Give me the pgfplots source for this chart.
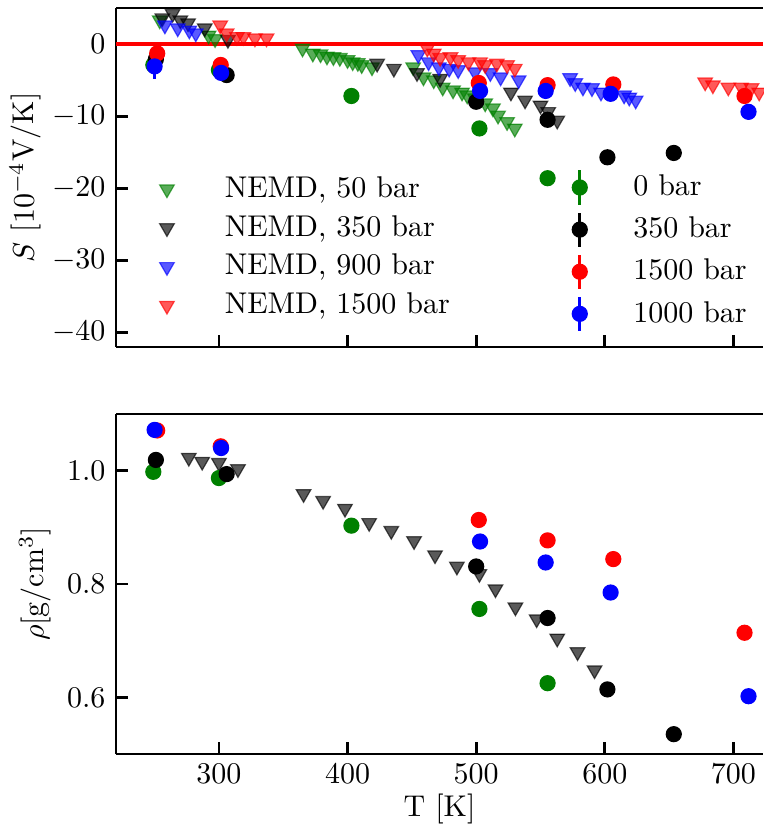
\documentclass[border=0pt]{standalone}
\usepackage{pgfplots}
\usepackage{pgfplotstable}
\pgfplotsset{compat=1.18}
\definecolor{mgreen}{RGB}{0,128,0}

\pgfplotstableread{
T S
254 3.3
292 1.2
297 0.7
365 -0.6
373 -1.3
379 -1.4
384 -1.7
389 -1.8
394 -1.9
400 -2.2
404 -2.5
408 -2.6
411 -2.9
419 -3.2
451 -3.2
459 -4.6
467 -5.0
474 -6.0
482 -6.4
489 -6.7
493 -7.1
499 -7.5
507 -8.2
513 -8.9
517 -9.9
524 -10.8
530 -11.7
}\nemdA
\pgfplotstableread{
T S
256 3.6
264 4.2
270 3.3
276 2.9
289 2.2
307 0.6
423 -2.7
436 -3.4
454 -4.0
472 -4.8
527 -6.7
538 -7.8
550 -8.5
556 -9.4
563 -10.6
}\nemdB
\pgfplotstableread{
T S
258 2.6
268 2.2
277 1.9
282 1.5
455 -1.5
463 -2.5
471 -3.2
479 -3.4
486 -3.6
499 -3.9
511 -4.0
519 -4.6
533 -5.0
573 -4.7
577 -5.4
583 -6.0
590 -6.1
597 -6.7
615 -7.1
619 -7.4
624 -7.8
}\nemdC
\pgfplotstableread{
T S
301 2.6
306 1.5
314 1.0
319 1.0
328 0.8
337 0.8
462 -0.6
467 -1.3
472 -1.9
480 -1.8
486 -2.2
494 -2.5
503 -2.5
507 -2.9
516 -2.7
524 -2.9
530 -3.4
678 -5.3
684 -5.7
696 -6.0
706 -6.0
714 -6.1
720 -6.7
}\nemdD
\pgfplotstableread{
T S e rho
249 -2.9 0.4 0.998
300 -3.6 0.3 0.987
403 -7.2 0.3 0.903
502.5 -11.7 0.3 0.756
555.5 -18.6 0.3 0.625
}\expA
\pgfplotstableread{
T S e rho
251 -2.1 0.4 1.019
306 -4.3 0.3 0.994
500 -8.0 0.3 0.831
555.5 -10.5 0.3 0.740
602 -15.7 0.3 0.614
653.6 -15.1 0.3 0.535
}\expB
\pgfplotstableread{
T S e rho
252 -1.3 0.4 1.071
301.4 -2.9 0.3 1.043
502 -5.4 0.3 0.913
555.5 -5.7 0.3 0.877
606.6 -5.6 0.3 0.844
708.6 -7.2 0.3 0.714
}\expC
\pgfplotstableread{
T S e rho
250 -3.1 1.8 1.072
301.7 -4.0 0.3 1.040
503 -6.5 0.3 0.875
554 -6.5 0.3 0.838
604.5 -6.9 0.3 0.785
711.7 -9.4 0.3 0.602
}\expD
\pgfplotstableread{
T rho
276.6 1.023
287 1.016
300 1.014
314.8 1.003
365.8 0.959
381 0.947
398 0.933
416.8 0.908
434 0.894
451.7 0.876
468 0.851
485 0.831
502.5 0.818
515 0.791
530.5 0.759
547 0.738
563 0.704
578.8 0.680
592 0.648
}\nemdRho

\pgfplotsset{
 myaxis/.style={scale only axis, width=215.67pt, xmin=220, xmax=723,
   axis x line*=bottom, axis y line*=left,
   axis line style={-, line width=0.9pt},
   tick align=inside, major tick length=4pt,
   every tick/.style={black, line width=0.9pt},
   xtick={300,400,500,600,700},
   extra description/.code={\draw[line width=0.9pt] (0,1) -- (1,1);}},
 tri/.style={only marks, mark=triangle*, mark size=2.8pt, color=#1,
   mark options={rotate=180, opacity=0.65, fill=#1, draw=#1},
   legend image code/.code={\path (0cm,-0.12cm) (0.85cm,0.12cm);
     \draw[##1] plot coordinates {(0.25cm,0cm)};}},
 circ/.style={only marks, mark=*, mark size=2.5pt, color=#1,
   mark options={fill=#1, draw=#1},
   error bars/y dir=both, error bars/y explicit, error bars/error mark=none,
   error bars/error bar style={line width=1pt, color=#1}},
 circleg/.style={only marks, mark=*, mark size=2.5pt, color=#1,
   mark options={fill=#1, draw=#1},
   legend image code/.code={\path (0cm,-0.12cm) (0.8cm,0.12cm);
     \draw[color=#1, line width=1pt] (0.25cm,-0.2cm) -- (0.25cm,0.2cm);
     \draw[##1] plot coordinates {(0.25cm,0cm)};}},
}

\begin{document}
\begin{tikzpicture}
% ---------- top panel: NEMD triangles ----------
\begin{axis}[myaxis, at={(0pt,135.67pt)}, height=113pt,
  ymin=-42, ymax=5, ytick={-40,-30,-20,-10,0},
  xticklabels={},
  ylabel={$S$ [$10^{-4}$V/K]},
  ylabel style={at={(axis description cs:-0.14,0.5)}, anchor=center},
  legend style={draw=none, fill=none, at={(axis description cs:0.03,0.54)}, anchor=north west, row sep=0.5pt},
  legend cell align=left]
\addplot[tri=mgreen] table[x=T,y=S] {\nemdA};
\addlegendentry{NEMD, 50 bar}
\addplot[tri=black] table[x=T,y=S] {\nemdB};
\addlegendentry{NEMD, 350 bar}
\addplot[tri=blue] table[x=T,y=S] {\nemdC};
\addlegendentry{NEMD, 900 bar}
\addplot[tri=red] table[x=T,y=S] {\nemdD};
\addlegendentry{NEMD, 1500 bar}
\addplot[red, line width=1.2pt, forget plot] coordinates {(220,0) (723,0)};
\end{axis}
% ---------- top panel: experimental circles ----------
\begin{axis}[scale only axis, width=215.67pt, height=113pt, at={(0pt,135.67pt)},
  xmin=220, xmax=723, ymin=-42, ymax=5, hide axis,
  legend style={draw=none, fill=none, at={(axis description cs:0.668,0.545)}, anchor=north west, row sep=1.6pt},
  legend cell align=left]
\addlegendimage{circleg=mgreen}
\addlegendentry{0 bar}
\addlegendimage{circleg=black}
\addlegendentry{350 bar}
\addlegendimage{circleg=red}
\addlegendentry{1500 bar}
\addlegendimage{circleg=blue}
\addlegendentry{1000 bar}
\addplot[forget plot, circ=mgreen] table[x=T,y=S,y error=e] {\expA};
\addplot[forget plot, circ=black] table[x=T,y=S,y error=e] {\expB};
\addplot[forget plot, circ=red] table[x=T,y=S,y error=e] {\expC};
\addplot[forget plot, circ=blue] table[x=T,y=S,y error=e] {\expD};
\end{axis}
% ---------- bottom panel ----------
\begin{axis}[myaxis, at={(0pt,0pt)}, height=113.33pt,
  ymin=0.5, ymax=1.1, ytick={0.6,0.8,1.0},
  yticklabel style={/pgf/number format/.cd, fixed, fixed zerofill, precision=1},
  xlabel={T [K]}, xlabel style={yshift=3.5pt},
  ylabel={$\rho$[g/cm$^3$]},
  ylabel style={at={(axis description cs:-0.125,0.5)}, anchor=center}]
\addplot[tri=black] table[x=T,y=rho] {\nemdRho};
\addplot[circ=mgreen] table[x=T,y=rho] {\expA};
\addplot[circ=black] table[x=T,y=rho] {\expB};
\addplot[circ=red] table[x=T,y=rho] {\expC};
\addplot[circ=blue] table[x=T,y=rho] {\expD};
\end{axis}
\pgfresetboundingbox
\path[use as bounding box] (-38.67pt,-24.33pt) rectangle (215.67pt,251.33pt);
\end{tikzpicture}
\end{document}
